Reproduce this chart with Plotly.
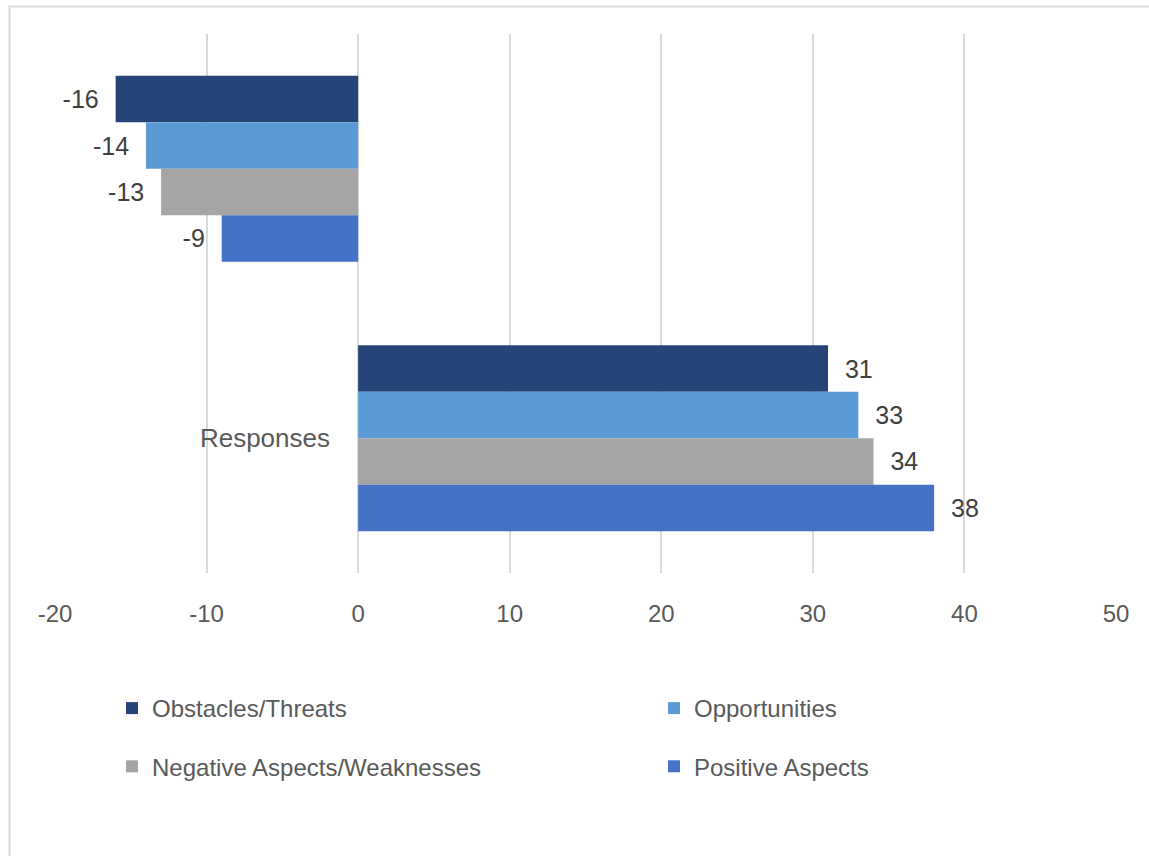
import plotly.graph_objects as go

categories = [" ", "Responses"]
series_names = ["Obstacles/Threats", "Opportunities", "Negative Aspects/Weaknesses", "Positive Aspects"]
obstacles = [-16, 31]
opportunities = [-14, 33]
negative = [-13, 34]
positive = [-9, 38]
x_ticks = [-20, -10, 0, 10, 20, 30, 40, 50]
x_tick_labels = [str(t) for t in x_ticks]

series_values = [obstacles, opportunities, negative, positive]
colors = ["#264478", "#5B9BD5", "#A5A5A5", "#4472C4"]
legend_ids = ["legend", "legend2", "legend", "legend2"]

FONT = "Liberation Sans, Arial, sans-serif"
NB = "\u00a0"

fig = go.Figure()
for name, vals, col, lg in zip(series_names, series_values, colors, legend_ids):
    labels = [(f"{v}{NB*2}" if v < 0 else f"{NB*2}{v}") for v in vals]
    fig.add_trace(go.Bar(
        y=categories, x=vals, name=name, orientation="h",
        marker=dict(color=col, line=dict(width=0)),
        text=labels, textposition="outside", constraintext="none", cliponaxis=False,
        textfont=dict(family=FONT, size=25, color="#404040"),
        legend=lg, legendgroup=name, hoverinfo="x+name",
    ))

W, H = 1149, 856
ml, mr, mt, mb = 55, 33, 34, 283
pw = W - ml - mr
ph = H - mt - mb

def px_to_paper_x(px):
    return (px - ml) / pw

def px_to_paper_y(py):
    return (H - mb - py) / ph

fig.update_layout(
    width=W, height=H,
    margin=dict(l=ml, r=mr, t=mt, b=mb),
    paper_bgcolor="white", plot_bgcolor="white",
    barmode="group", bargap=0.31, bargroupgap=0,
    font=dict(family=FONT, color="#595959", size=24),
    xaxis=dict(range=[-20, 50], tickvals=x_ticks, ticktext=x_tick_labels, showgrid=True,
               gridcolor="#D9D9D9", gridwidth=1.5,
               zeroline=True, zerolinecolor="#D9D9D9", zerolinewidth=1.5, showline=False,
               ticks="", ticklabelstandoff=24, tickfont=dict(size=24, color="#595959")),
    yaxis=dict(autorange="reversed", anchor="free", position=px_to_paper_x(358), showgrid=False,
               zeroline=False, showline=False, ticks="", ticklabelstandoff=28,
               tickfont=dict(size=26, color="#595959")),
    legend=dict(x=px_to_paper_x(112), y=px_to_paper_y(686), xanchor="left", yanchor="top",
                orientation="v", traceorder="grouped", tracegroupgap=24,
                font=dict(size=24, color="#595959"), bgcolor="rgba(0,0,0,0)"),
    legend2=dict(x=px_to_paper_x(654), y=px_to_paper_y(686), xanchor="left", yanchor="top",
                 orientation="v", traceorder="grouped", tracegroupgap=24,
                 font=dict(size=24, color="#595959"), bgcolor="rgba(0,0,0,0)"),
    shapes=[dict(type="rect", xref="paper", yref="paper",
                 x0=px_to_paper_x(9.5), x1=px_to_paper_x(1200),
                 y0=px_to_paper_y(900), y1=px_to_paper_y(6.5),
                 line=dict(color="#D9D9D9", width=2), fillcolor="rgba(0,0,0,0)", layer="below")],
    showlegend=True,
)

fig.write_html("out.html", config={"displayModeBar": False},
               post_script="document.body.style.margin='0';")
